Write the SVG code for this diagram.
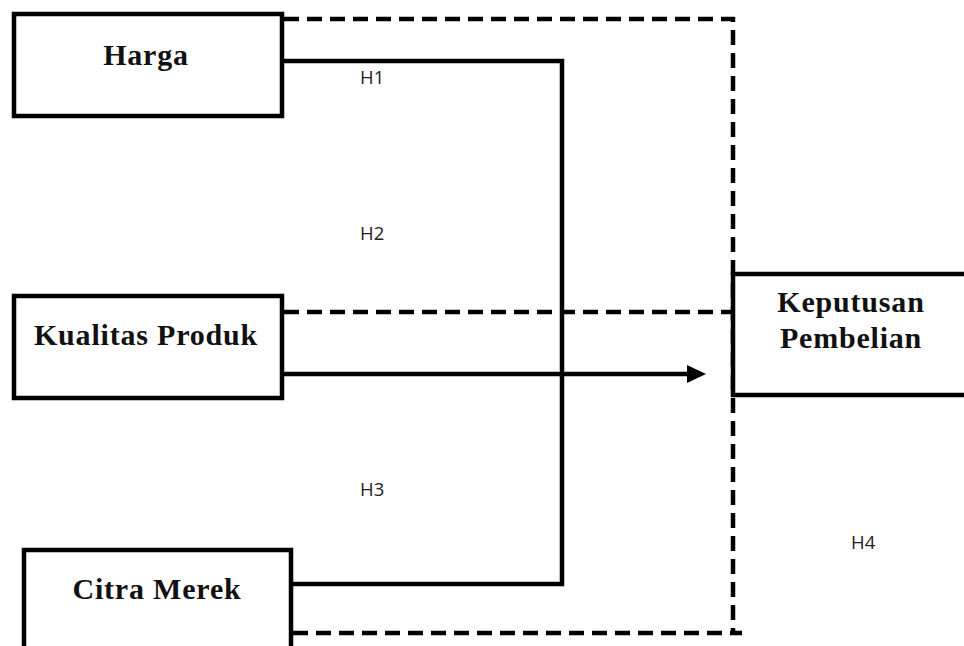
<svg xmlns="http://www.w3.org/2000/svg" width="964" height="646" viewBox="0 0 964 646">
<style>
.box{fill:#fff;stroke:#000;stroke-width:4.5}
.t{font-family:"Liberation Serif","Times New Roman",serif;font-weight:bold;font-size:30px;letter-spacing:0.8px;fill:#111;text-anchor:middle}
.h{font-family:"Open Sans","Liberation Sans",sans-serif;font-size:18.5px;fill:#222}
.line{fill:none;stroke:#000;stroke-width:4.5}
.dash{fill:none;stroke:#000;stroke-width:4.5;stroke-dasharray:15 8}
</style>
<rect width="964" height="646" fill="#fff"/>
<g id="connectors">
<path class="dash" d="M284,19 H733 V632"/>
<path class="dash" d="M284,312 H731"/>
<path class="dash" d="M293,633 H742"/>
<path class="line" d="M284,61 H562 V584 H293"/>
<line x1="284" y1="374" x2="688" y2="374" class="line"/>
<path d="M687,365 L706,374 L687,383 z" fill="#000"/>
<text class="h" x="360" y="84">H1</text>
<text class="h" x="360" y="240">H2</text>
<text class="h" x="360" y="496">H3</text>
<text class="h" x="851" y="549">H4</text>
</g>
<g id="harga">
<rect class="box" x="14" y="14" width="268" height="102"/>
<text class="t" x="146" y="65">Harga</text>
</g>
<g id="kualitas">
<rect class="box" x="14" y="296" width="268" height="102"/>
<text class="t" x="146" y="345">Kualitas Produk</text>
</g>
<g id="citra">
<rect class="box" x="24" y="550" width="267" height="110"/>
<text class="t" x="157" y="599">Citra Merek</text>
</g>
<g id="keputusan">
<rect class="box" x="733" y="274" width="250" height="121"/>
<text class="t" x="851" y="312">Keputusan</text>
<text class="t" x="851" y="348">Pembelian</text>
</g>
</svg>
